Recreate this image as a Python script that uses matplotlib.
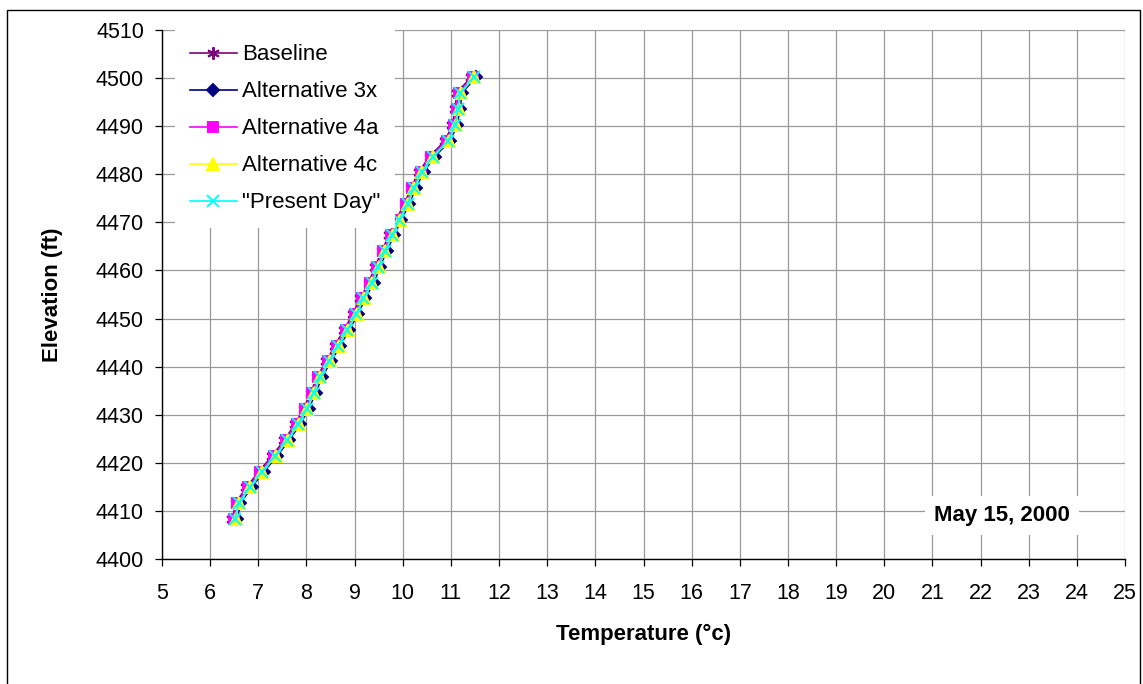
"""
Temperature profile with elevation - May 15, 2000
"""

import matplotlib
matplotlib.use("Agg")
import matplotlib.pyplot as plt
from matplotlib.patches import Rectangle

plt.rcParams["font.family"] = ["Liberation Sans", "DejaVu Sans"]

# ── data ─────────────────────────────────────────────────────────────────────
elevation = [4408.3, 4411.6, 4414.9, 4418.1, 4421.4, 4424.7, 4428.0, 4431.3,
             4434.5, 4437.8, 4441.1, 4444.4, 4447.7, 4450.9, 4454.2, 4457.5,
             4460.8, 4464.1, 4467.3, 4470.6, 4473.9, 4477.2, 4480.5, 4483.7,
             4487.0, 4490.3, 4493.6, 4496.9, 4500.2]

baseline = [6.46, 6.53, 6.75, 7.01, 7.28, 7.54, 7.76, 7.94, 8.09, 8.21,
            8.41, 8.59, 8.78, 8.96, 9.12, 9.29, 9.43, 9.56, 9.72, 9.86,
            10.04, 10.17, 10.33, 10.56, 10.88, 11.03, 11.09, 11.12, 11.42]
alt_3x = [6.56, 6.63, 6.86, 7.11, 7.39, 7.64, 7.87, 8.05, 8.19, 8.32,
          8.51, 8.70, 8.89, 9.07, 9.22, 9.40, 9.53, 9.67, 9.82, 9.97,
          10.14, 10.27, 10.44, 10.66, 10.99, 11.13, 11.19, 11.23, 11.52]
alt_4a = [6.49, 6.56, 6.79, 7.04, 7.32, 7.57, 7.80, 7.98, 8.12, 8.25,
          8.44, 8.63, 8.82, 9.00, 9.15, 9.33, 9.46, 9.60, 9.75, 9.90,
          10.07, 10.20, 10.37, 10.59, 10.92, 11.06, 11.12, 11.16, 11.45]
alt_4c = [6.53, 6.60, 6.83, 7.08, 7.36, 7.61, 7.84, 8.02, 8.16, 8.29,
          8.48, 8.67, 8.86, 9.04, 9.19, 9.37, 9.50, 9.64, 9.79, 9.94,
          10.11, 10.24, 10.41, 10.63, 10.96, 11.10, 11.16, 11.20, 11.49]
present_day = [6.52, 6.59, 6.82, 7.07, 7.35, 7.60, 7.83, 8.01, 8.15, 8.28,
               8.47, 8.66, 8.85, 9.03, 9.18, 9.36, 9.49, 9.63, 9.78, 9.93,
               10.10, 10.23, 10.40, 10.62, 10.95, 11.09, 11.15, 11.19, 11.48]

x_ticks = list(range(5, 26))
y_ticks = list(range(4400, 4511, 10))

# ── figure ───────────────────────────────────────────────────────────────────
fig = plt.figure(figsize=(11.43, 6.84), dpi=100)
ax = fig.add_axes([0.1417, 0.1827, 0.8426, 0.7734])

# outer chart border
fig.patches.append(Rectangle((7 / 1143, -0.05), 1133 / 1143, 0.05 + 1 - 10 / 684,
                             transform=fig.transFigure, fill=False,
                             edgecolor="black", linewidth=1.0))

series = [
    ("Baseline",        baseline,    "#800080", (6, 2, 0), 9),
    ("Alternative 3x",  alt_3x,      "#000080", "D",       6),
    ("Alternative 4a",  alt_4a,      "#FF00FF", "s",       7),
    ("Alternative 4c",  alt_4c,      "#FFFF00", "^",       8),
    ('"Present Day"',   present_day, "#00FFFF", "x",       8),
]
for label, temps, col, mk, ms in series:
    ax.plot(temps, elevation, color=col, linewidth=1.2, marker=mk,
            markersize=ms, markerfacecolor=col, markeredgecolor=col,
            markeredgewidth=1.4, label=label, zorder=3)

ax.set_xlim(5, 25)
ax.set_ylim(4400, 4510)
ax.set_xticks(x_ticks)
ax.set_yticks(y_ticks)
ax.grid(True, color="#999999", linewidth=0.9)
ax.set_axisbelow(True)
ax.spines[["top", "right"]].set_visible(False)
for s in ("left", "bottom"):
    ax.spines[s].set_linewidth(1.0)
ax.tick_params(axis="x", direction="out", length=5, width=0.9,
               labelsize=15.5, pad=12)
ax.tick_params(axis="y", direction="out", length=5, width=0.9,
               labelsize=15.5, pad=8)

ax.set_xlabel("Temperature (°c)", fontsize=16, fontweight="bold")
ax.set_ylabel("Elevation (ft)", fontsize=16, fontweight="bold")
ax.xaxis.set_label_coords(0.5, -0.122)
ax.yaxis.set_label_coords(-0.103, 0.5)

leg = ax.legend(loc="upper left", bbox_to_anchor=(0.014, 1.0), fontsize=16,
                frameon=True, fancybox=False, framealpha=1.0,
                edgecolor="none", facecolor="white", borderaxespad=0.0,
                handlelength=2.1, handletextpad=0.25, labelspacing=0.72,
                borderpad=0.65)
leg.set_zorder(5)

ax.text(0.872, 0.083, "May 15, 2000", transform=ax.transAxes,
        ha="center", va="center", fontsize=16, fontweight="bold",
        bbox=dict(boxstyle="square,pad=0.4", fc="white", ec="none"),
        zorder=6)

plt.savefig("out.png", dpi=100)
plt.close()
